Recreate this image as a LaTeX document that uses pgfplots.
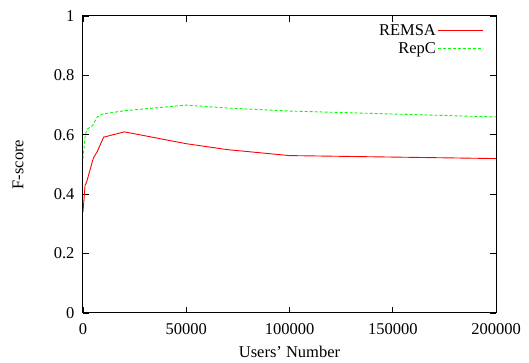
\documentclass[border=0pt]{standalone}
\usepackage{fontspec}
\setmainfont{Liberation Serif}
\usepackage{pgfplots}
\pgfplotsset{compat=1.18}
\begin{document}
\begin{tikzpicture}
\useasboundingbox (-83pt,-50pt) rectangle (446pt,313pt);
\begin{axis}[
  at={(0pt,0pt)}, anchor=south west,
  scale only axis, width=413pt, height=297pt,
  xmin=0, xmax=200000, ymin=0, ymax=1,
  xtick={0,50000,100000,150000,200000},
  ytick={0,0.2,0.4,0.6,0.8,1},
  scaled x ticks=false,
  /pgf/number format/1000 sep={},
  /pgf/number format/fixed,
  /pgf/number format/assume math mode=true,
  tick align=inside, major tick length=6pt,
  tick style={black, line width=0.8pt},
  axis line style={line width=1pt},
  font=\fontsize{16.5}{19}\selectfont,
  xticklabel style={yshift=-7pt},
  yticklabel style={xshift=-5pt},
  xlabel={Users' Number}, ylabel={F-score},
  xlabel style={at={(axis description cs:0.5,-0.131)}, anchor=center},
  ylabel style={at={(axis description cs:-0.157,0.5)}, anchor=center},
  legend plot pos=right,
  legend cell align=right,
  legend style={draw=none, fill=none, inner sep=0pt, at={(rel axis cs:1,1)}, anchor=north east,
    xshift=-12pt, yshift=-6pt,
    font=\fontsize{16.5}{16.5}\selectfont, row sep=2pt},
  legend image code/.code={\draw[#1] (0pt,0pt) -- (45pt,0pt);},
]
\addplot[red, line width=0.9pt] coordinates {
(0,0.34) (1000,0.43) (1800,0.442) (5000,0.521) (7000,0.545) (10000,0.592) (20000,0.61)
(50000,0.57) (70000,0.55) (100000,0.53) (200000,0.52)};
\addlegendentry{REMSA}
\addplot[green, line width=0.9pt, dash pattern=on 3pt off 2pt] coordinates {
(0,0.52) (1000,0.594) (1800,0.618) (4500,0.63) (7000,0.661) (9500,0.67) (20000,0.681)
(50000,0.70) (70000,0.69) (100000,0.68) (200000,0.66)};
\addlegendentry{RepC}
\end{axis}
\end{tikzpicture}
\end{document}
